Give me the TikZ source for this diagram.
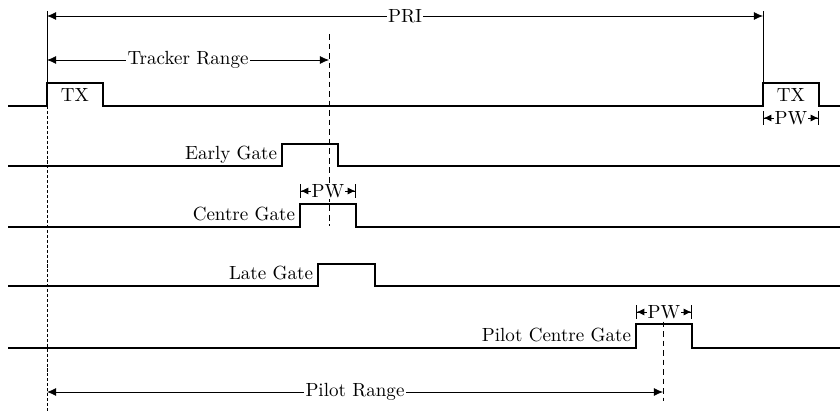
\documentclass[tikz,border=0pt]{standalone}
\usetikzlibrary{arrows.meta,positioning,calc}
\begin{document}
\begin{tikzpicture}[
        x=0.525pt, y=-0.525pt,
        signal/.style={semithick},
        span/.style={{Latex[length=1.7mm,width=1.5mm]}-{Latex[length=1.7mm,width=1.5mm]}},
        pwspan/.style={{Bar[width=2.4mm]Latex[length=1.4mm,width=1.3mm]}-{Latex[length=1.4mm,width=1.3mm]Bar[width=2.4mm]}},
        marker/.style={dashed, dash pattern=on 3pt off 2pt},
        zeroline/.style={dash pattern=on 1.6pt off 1pt},
        lab/.style={fill=white, inner sep=0.6pt},
        gatelab/.style={anchor=base east, inner sep=2.4pt}
    ]
        \useasboundingbox (0,0) rectangle (840,416);

        % transmit pulses
        \coordinate (txa) at (47,83);
        \coordinate (txb) at (763,83);
        \draw[signal] (8,106) -| (txa) -| (103,106) -| (txb) -| (819,106) -- (840,106);
        \node (txlabela) at (75,95) {TX};
        \node (txlabelb) at (791,95) {TX};

        % gates
        \draw[signal] (8,166) -| (282,144) -| (338,166) -- (840,166);
        \node[gatelab] (early) at (282,160) {Early Gate};
        \draw[signal] (8,227) -| (300,204) -| (356,227) -- (840,227);
        \node[gatelab] (centre) at (300,221) {Centre Gate};
        \draw[signal] (8,286) -| (318,264) -| (375,286) -- (840,286);
        \node[gatelab] (late) at (318,280) {Late Gate};
        \draw[signal] (8,348) -| (636,324) -| (692,348) -- (840,348);
        \node[gatelab] (pilot) at (636,342) {Pilot Centre Gate};

        % reference lines
        \coordinate (pritopa) at (47,11);
        \coordinate (pritopb) at (763,11);
        \coordinate (txfoot) at (47,106);
        \coordinate (zerobot) at (47,413);
        \coordinate (trktop) at (329,34);
        \coordinate (trkbot) at (329,226);
        \coordinate (plttop) at (663,312);
        \coordinate (pltbot) at (663,401);
        \draw (pritopa) -- (txa);
        \draw (pritopb) -- (txb);
        \draw[zeroline] (txfoot) -- (zerobot);
        \draw[marker] (trktop) -- (trkbot);
        \draw[marker] (plttop) -- (pltbot);

        % spans
        \coordinate (pria) at (47,16);
        \coordinate (prib) at (763,16);
        \coordinate (trka) at (47,60);
        \coordinate (trkb) at (329,60);
        \coordinate (plta) at (47,392);
        \coordinate (pltb) at (663,392);
        \draw[span] (pria) -- node[lab] {PRI} (prib);
        \draw[span] (trka) -- node[lab] {Tracker Range} (trkb);
        \draw[span] (plta) -- node[lab] {Pilot Range} (pltb);

        \coordinate (pwtxa) at (763,118);
        \coordinate (pwtxb) at (819,118);
        \coordinate (pwcna) at (300,191);
        \coordinate (pwcnb) at (356,191);
        \coordinate (pwpla) at (636,312);
        \coordinate (pwplb) at (692,312);
        \draw[pwspan] (pwtxa) -- node[lab] {PW} (pwtxb);
        \draw[pwspan] (pwcna) -- node[lab] {PW} (pwcnb);
        \draw[pwspan] (pwpla) -- node[lab] {PW} (pwplb);
    \end{tikzpicture}
\end{document}
